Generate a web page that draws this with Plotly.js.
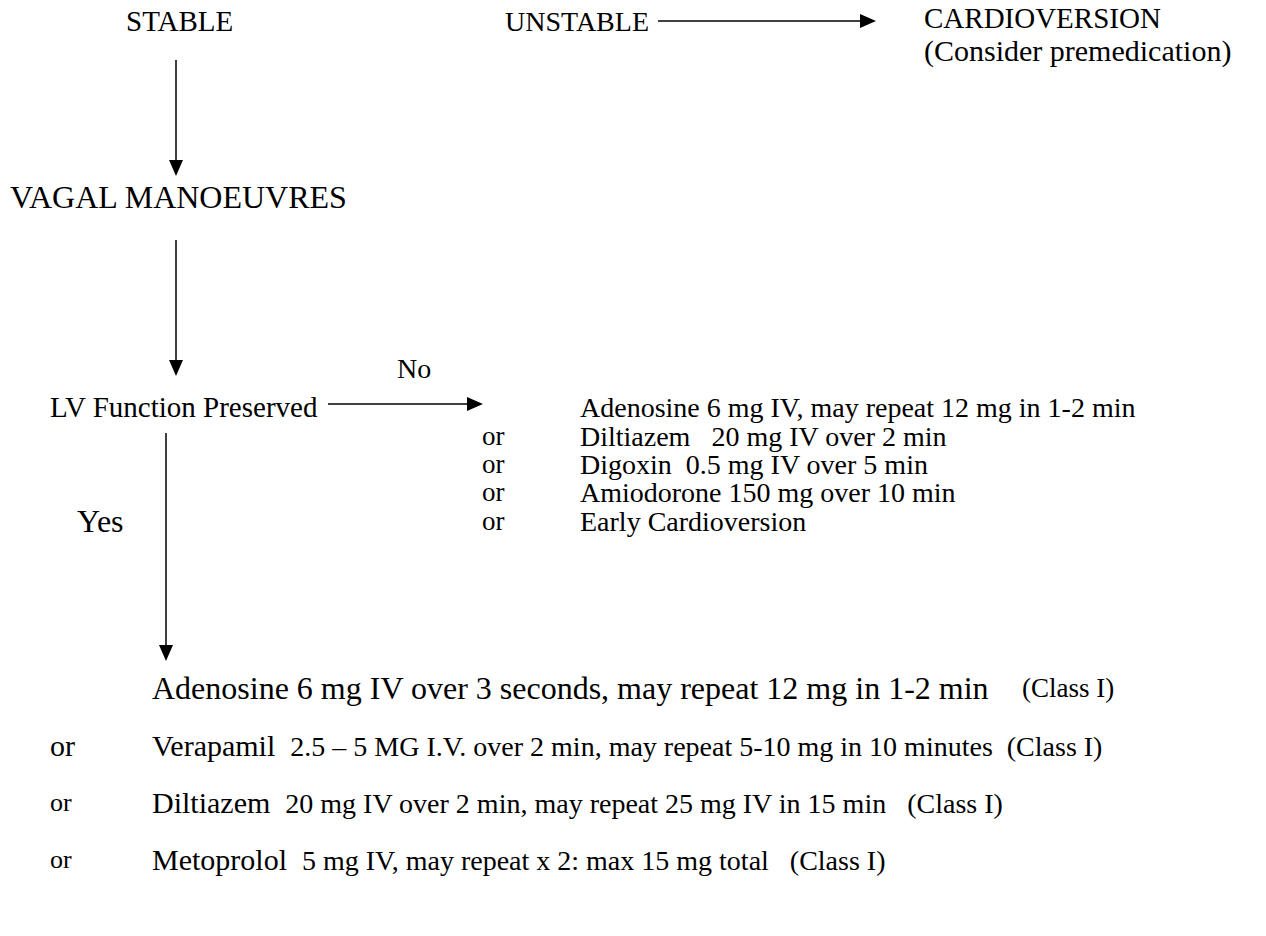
<!DOCTYPE html>
<html>
<head>
<meta charset="utf-8">
<script src="https://cdn.plot.ly/plotly-3.0.1.min.js"></script>
<style>html,body{margin:0;padding:0;background:#fff;}#chart{width:1266px;height:936px;}</style>
</head>
<body>
<div id="chart"></div>
<script>
// ---- Content ----
var topNodes = ["STABLE", "UNSTABLE", "CARDIOVERSION", "(Consider premedication)"];
var midNodes = ["VAGAL MANOEUVRES", "LV Function Preserved"];
var branchLabels = ["No", "Yes"];
var noConnectors = ["", "or", "or", "or", "or"];
var noDrugs = [
  "Adenosine 6 mg IV, may repeat 12 mg in 1-2 min",
  "Diltiazem\u00a0\u00a0 20 mg IV over 2 min",
  "Digoxin\u00a0 0.5 mg IV over 5 min",
  "Amiodorone 150 mg over 10 min",
  "Early Cardioversion"
];
var yesConnectors = ["", "or", "or", "or"];
var yesDrugNames = ["Adenosine 6 mg IV over 3 seconds, may repeat 12 mg in 1-2 min", "Verapamil", "Diltiazem", "Metoprolol"];
var yesDrugDoses = ["",
  "2.5 \u2013 5 MG I.V. over 2 min, may repeat 5-10 mg in 10 minutes\u00a0 (Class I)",
  "20 mg IV over 2 min, may repeat 25 mg IV in 15 min\u00a0\u00a0 (Class I)",
  "5 mg IV, may repeat x 2: max 15 mg total\u00a0\u00a0 (Class I)"];
var yesClassTag = ["(Class I)", "", "", ""];

// ---- Layout helpers ----
var FONT = "Liberation Serif, serif";
var ann = [];
function txt(s, x, y, size) {
  ann.push({text: s, x: x, y: y, xref: "x", yref: "y", xanchor: "left", yanchor: "middle",
    showarrow: false, font: {family: FONT, size: size, color: "#000"}});
}
var shapes = [];
function arrow(x0, y0, x1, y1) {
  var L = 16, W = 7;
  var dx = x1 - x0, dy = y1 - y0, d = Math.sqrt(dx*dx + dy*dy);
  var ux = dx/d, uy = dy/d;
  var bx = x1 - ux*L, by = y1 - uy*L;
  shapes.push({type: "line", xref: "x", yref: "y", x0: x0, y0: y0, x1: bx, y1: by,
    line: {color: "#000", width: 1.5}});
  shapes.push({type: "path", xref: "x", yref: "y",
    path: "M" + x1 + "," + y1 + " L" + (bx - uy*W) + "," + (by + ux*W) + " L" + (bx + uy*W) + "," + (by - ux*W) + " Z",
    fillcolor: "#000", line: {color: "#000", width: 0}});
}

// top row
txt(topNodes[0], 124, 21, 29);
txt(topNodes[1], 503, 21, 28);
txt(topNodes[2], 922, 18, 29);
txt(topNodes[3], 922, 51, 30);
arrow(658, 21, 876, 21);
arrow(176, 60, 176, 176);
txt(midNodes[0], 8, 197, 32);
arrow(176, 240, 176, 376);
txt(branchLabels[0], 395, 368, 28);
txt(midNodes[1], 48, 407, 29);
arrow(328, 404, 483, 404);

var noY = [407, 436, 464, 492, 521];
for (var i = 0; i < noDrugs.length; i++) {
  if (noConnectors[i]) txt(noConnectors[i], 480, noY[i], 27);
  txt(noDrugs[i], 578, noY[i], 28);
}
txt(branchLabels[1], 75, 521, 32);
arrow(166, 433, 166, 661);

var yesY = [688, 745, 802, 859];
var SMALL = 28;
var nameSize = [32, 30, 30, 30];
for (var j = 0; j < yesDrugNames.length; j++) {
  if (yesConnectors[j]) txt(yesConnectors[j], 48, yesY[j], j === 1 ? 30 : 26);
  var s = yesDrugNames[j];
  if (yesDrugDoses[j]) s += "\u00a0\u00a0<span style=\"font-size:" + SMALL + "px\">" + yesDrugDoses[j] + "</span>";
  txt(s, 150, yesY[j], nameSize[j]);
  if (yesClassTag[j]) txt(yesClassTag[j], 1020, yesY[j], 27);
}

var layout = {
  width: 1266, height: 936,
  margin: {l: 0, r: 0, t: 0, b: 0},
  paper_bgcolor: "#fff", plot_bgcolor: "#fff",
  xaxis: {range: [0, 1266], visible: false, fixedrange: true},
  yaxis: {range: [936, 0], visible: false, fixedrange: true},
  showlegend: false,
  annotations: ann,
  shapes: shapes
};
Plotly.newPlot("chart", [], layout, {staticPlot: true, displayModeBar: false});
</script>
</body>
</html>
